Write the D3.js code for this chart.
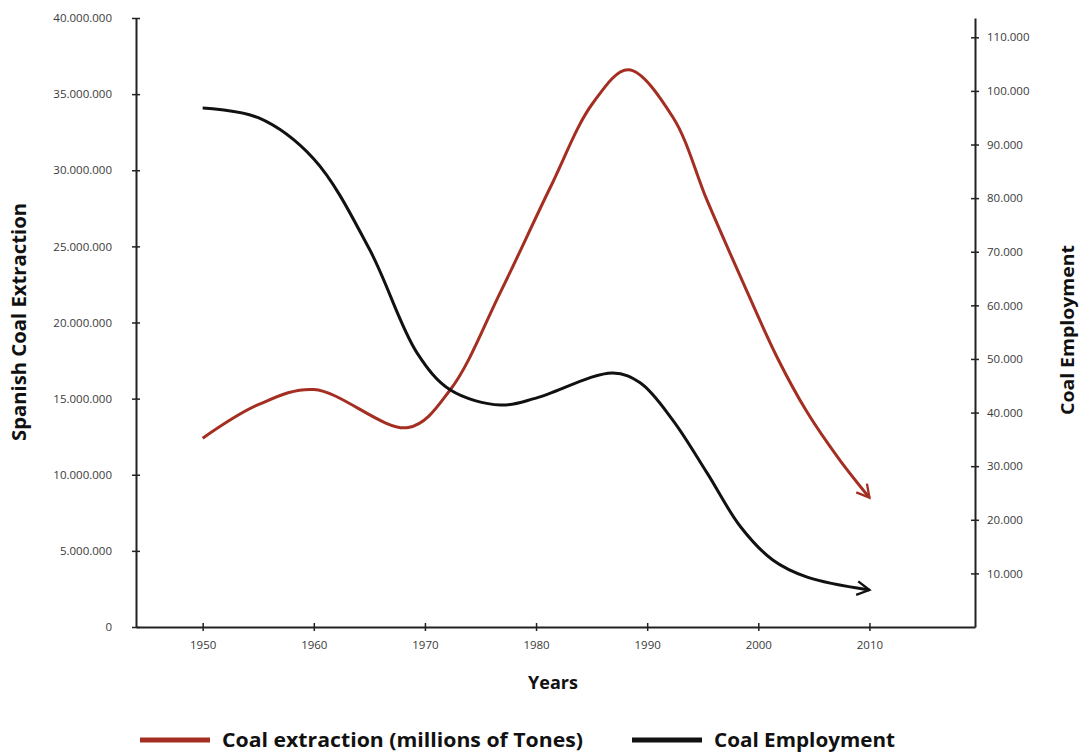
<!DOCTYPE html>
<html><head><meta charset="utf-8">
<script src="https://cdn.jsdelivr.net/npm/d3@7"></script>
<style>
body{margin:0;background:#fff;}
text{font-family:"Open Sans",sans-serif;}
</style></head>
<body><svg id="c" width="1085" height="752"></svg>
<script>
// ---- data ----
const extractionYears = [1950, 1955, 1960, 1968.5, 1972.3, 1976.8, 1981.3, 1985.1, 1988.3, 1992.3, 1995.4, 1998.4, 2001.7, 2004.4, 2007.3, 2010];
const extractionValues = [12400000, 14600000, 15600000, 13100000, 15600000, 22000000, 28900000, 34400000, 36600000, 33500000, 28000000, 23000000, 17700000, 14100000, 11000000, 8500000];
const employmentYears = [1950, 1955, 1960, 1965, 1969.3, 1972.3, 1976.8, 1980, 1986.9, 1989.4, 1992.3, 1995.4, 1998.4, 2001.3, 2004.4, 2010];
const employmentValues = [96800, 95000, 87300, 70500, 51100, 44200, 41400, 42700, 47400, 45500, 38600, 28700, 18700, 12500, 9300, 6900];
const xTicks = [1950, 1960, 1970, 1980, 1990, 2000, 2010];
const leftTicks = [0, 5000000, 10000000, 15000000, 20000000, 25000000, 30000000, 35000000, 40000000];
const rightTicks = [10000, 20000, 30000, 40000, 50000, 60000, 70000, 80000, 90000, 100000, 110000];
const seriesNames = ["Coal extraction (millions of Tones)", "Coal Employment"];

(function () {
const RED = "#a32e21", BLACK = "#111";
const svg = d3.select("#c");
const mL = 136, mR = 975, mT = 18, mB = 627;
const x = d3.scaleLinear().domain([1944, 2019.5]).range([mL, mR]);
const yL = d3.scaleLinear().domain([0, 40000000]).range([mB, mT]);
const yR = d3.scaleLinear().domain([0, 113600]).range([mB, mT]);
const loc = d3.formatLocale({decimal: ",", thousands: ".", grouping: [3], currency: ["", ""]});
const fmt = loc.format(",d");

const defs = svg.append("defs");
function marker(id, color) {
  defs.append("marker").attr("id", id).attr("viewBox", "0 0 12 12")
    .attr("refX", 10).attr("refY", 6).attr("markerWidth", 5.5).attr("markerHeight", 5.5)
    .attr("markerUnits", "strokeWidth").attr("orient", "auto")
    .append("path").attr("d", "M1,1 L10,6 L1,11").attr("fill", "none")
    .attr("stroke", color).attr("stroke-width", 1.7).attr("stroke-linejoin", "miter");
}
marker("arR", RED); marker("arK", BLACK);

function styleAxis(g) {
  g.select(".domain").attr("stroke", "#222").attr("stroke-width", 2);
  g.selectAll(".tick line").attr("stroke", "#222").attr("stroke-width", 1.5);
  g.selectAll(".tick text").attr("fill", "#3a3a3a").attr("font-size", 11.5).attr("font-family", "Open Sans");
}
const gl = svg.append("g").attr("transform", `translate(${mL},0)`)
  .call(d3.axisLeft(yL).tickValues(leftTicks).tickFormat(fmt).tickSize(4).tickSizeOuter(0).tickPadding(20));
styleAxis(gl);
gl.selectAll(".tick line").attr("x2", 4).attr("x1", -4);
const gr = svg.append("g").attr("transform", `translate(${mR},0)`)
  .call(d3.axisRight(yR).tickValues(rightTicks).tickFormat(fmt).tickSize(4).tickSizeOuter(0).tickPadding(8));
styleAxis(gr);
gr.selectAll(".tick line").attr("x1", -4).attr("x2", 4);
const gb = svg.append("g").attr("transform", `translate(0,${mB})`)
  .call(d3.axisBottom(x).tickValues(xTicks).tickFormat(d3.format("d")).tickSize(4).tickSizeOuter(0).tickPadding(10));
styleAxis(gb);
gb.selectAll(".tick line").attr("y1", -4).attr("y2", 4);

const curve = d3.curveCatmullRom.alpha(0.5);
const redLine = d3.line().curve(curve).x(d => x(d[0])).y(d => yL(d[1]));
const blackLine = d3.line().curve(curve).x(d => x(d[0])).y(d => yR(d[1]));
svg.append("path").datum(extractionYears.map((y, i) => [y, extractionValues[i]]))
  .attr("d", redLine).attr("fill", "none").attr("stroke", RED).attr("stroke-width", 3)
  .attr("marker-end", "url(#arR)");
svg.append("path").datum(employmentYears.map((y, i) => [y, employmentValues[i]]))
  .attr("d", blackLine).attr("fill", "none").attr("stroke", BLACK).attr("stroke-width", 3)
  .attr("marker-end", "url(#arK)");

svg.append("text").attr("transform", "translate(26,322) rotate(-90)").attr("text-anchor", "middle")
  .attr("font-weight", 700).attr("font-size", 19).attr("fill", "#111")
  .attr("textLength", 238).attr("lengthAdjust", "spacingAndGlyphs").text("Spanish Coal Extraction");
svg.append("text").attr("transform", "translate(1074,330) rotate(-90)").attr("text-anchor", "middle")
  .attr("font-weight", 700).attr("font-size", 18).attr("fill", "#111")
  .attr("textLength", 170).attr("lengthAdjust", "spacingAndGlyphs").text("Coal Employment");
svg.append("text").attr("x", 553).attr("y", 689).attr("text-anchor", "middle")
  .attr("font-weight", 700).attr("font-size", 18).attr("fill", "#111").text("Years");

const leg = [{x: 140, c: RED, t: seriesNames[0], w: 361}, {x: 632, c: BLACK, t: seriesNames[1], w: 181}];
leg.forEach(d => {
  svg.append("line").attr("x1", d.x).attr("x2", d.x + 70).attr("y1", 740).attr("y2", 740)
    .attr("stroke", d.c).attr("stroke-width", 5);
  svg.append("text").attr("x", d.x + 82).attr("y", 747).attr("font-weight", 700)
    .attr("font-size", 20).attr("fill", "#111")
    .attr("textLength", d.w).attr("lengthAdjust", "spacingAndGlyphs").text(d.t);
});
})();
</script></body></html>
